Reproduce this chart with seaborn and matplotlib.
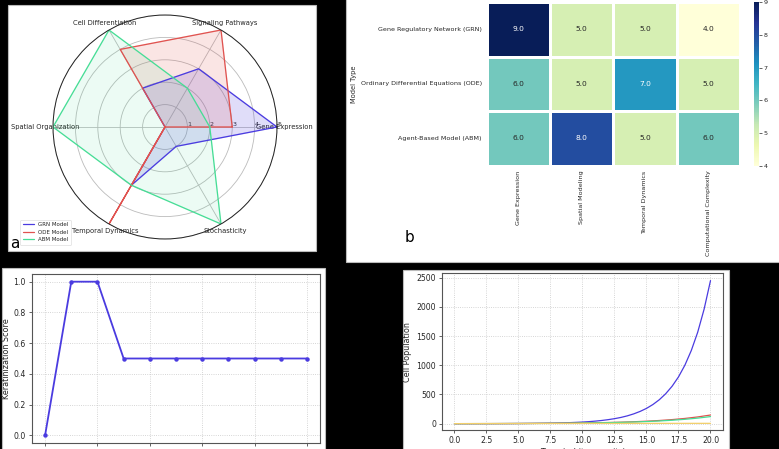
import numpy as np
import pandas as pd
import matplotlib
matplotlib.use("Agg")
import matplotlib.pyplot as plt
import seaborn as sns
from matplotlib.patches import Rectangle

# ---------------- data ----------------
radar_axes = ["Gene Expression", "Signaling Pathways", "Cell Differentiation",
              "Spatial Organization", "Temporal Dynamics", "Stochasticity"]
grn_scores = [5, 3, 2, 0, 3, 1]
ode_scores = [3, 5, 4, 0, 5, 0]
abm_scores = [2, 2, 5, 5, 3, 5]
radar_models = ["GRN Model", "ODE Model", "ABM Model"]
radar_ticks = [1, 2, 3, 4, 5]

heat_rows = ["Gene Regulatory Network (GRN)",
             "Ordinary Differential Equations (ODE)",
             "Agent-Based Model (ABM)"]
heat_cols = ["Gene Expression", "Spatial Modeling", "Temporal Dynamics",
             "Computational Complexity"]
heat_grn = [9, 5, 5, 4]
heat_ode = [6, 5, 7, 5]
heat_abm = [6, 8, 5, 6]

kera_steps = [0, 1, 2, 3, 4, 5, 6, 7, 8, 9, 10]
kera_scores = [0.0, 1.0, 1.0, 0.5, 0.5, 0.5, 0.5, 0.5, 0.5, 0.5, 0.5]

time_fine = [0.0, 0.5, 1.0, 1.5, 2.0, 2.5, 3.0, 3.5, 4.0, 4.5, 5.0, 5.5, 6.0, 6.5,
             7.0, 7.5, 8.0, 8.5, 9.0, 9.5, 10.0, 10.5, 11.0, 11.5, 12.0, 12.5,
             13.0, 13.5, 14.0, 14.5, 15.0, 15.5, 16.0, 16.5, 17.0, 17.5, 18.0,
             18.5, 19.0, 19.5, 20.0]
pop_grn = [0.3, 0.4, 0.5, 0.6, 0.8, 1.0, 1.2, 1.5, 1.9, 2.4, 3.0, 3.8, 4.7, 5.9,
           7.4, 9.2, 11.5, 14.4, 18, 22.5, 28, 35, 44, 55, 69, 86, 107, 134, 168,
           210, 262, 328, 410, 513, 641, 801, 1002, 1253, 1566, 1960, 2450]
time_coarse = [0, 1, 2, 3, 4, 5, 6, 7, 8, 9, 10, 11, 12, 13, 14, 15, 16, 17, 18, 19, 20]
pop_ode = [1, 1.28, 1.65, 2.12, 2.72, 3.49, 4.48, 5.75, 7.39, 9.49, 12.2, 15.6,
           20.1, 25.8, 33.1, 42.5, 54.6, 70.1, 90.0, 115.6, 148.4]
pop_abm = [1, 1.27, 1.62, 2.05, 2.61, 3.32, 4.22, 5.37, 6.82, 8.67, 11.0, 14.0,
           17.8, 22.6, 28.8, 36.6, 46.5, 59.1, 75.1, 95.5, 121.5]
pop_other = [1.0, 1.3, 1.6, 2.0, 2.4, 2.8, 3.2, 3.6, 4.0, 4.3, 4.6, 4.9, 5.1,
             5.3, 5.5, 5.6, 5.7, 5.8, 5.9, 5.95, 6.0]

# ---------------- style ----------------
sns.set_style("white")
plt.rcParams["font.family"] = ["DejaVu Sans"]

C_BLUE = "#4a3be0"
C_RED = "#e0524f"
C_GREEN = "#45dd95"
C_YEL = "#f2cf6a"

W, H = 779, 449
fig = plt.figure(figsize=(W / 100, H / 100), dpi=100, facecolor="black")


def fbox(x0, y0, x1, y1):
    return [x0 / W, 1 - y1 / H, (x1 - x0) / W, (y1 - y0) / H]


def white_box(x0, y0, x1, y1):
    l, b, w, h = fbox(x0, y0, x1, y1)
    fig.patches.append(Rectangle((l, b), w, h, transform=fig.transFigure,
                                 facecolor="white", edgecolor="#bbbbbb",
                                 linewidth=0.8, zorder=-5))


white_box(8, 5, 316, 251)
white_box(346, -5, 790, 262)
white_box(2, 268, 325, 470)
white_box(403, 270, 729, 470)

# ---------------- radar (a) ----------------
axr = fig.add_axes(fbox(53, 15, 277, 239), projection="polar")
axr.set_facecolor("white")
n = len(radar_axes)
angles = [i * 2 * np.pi / n for i in range(n)]
closed = angles + angles[:1]
for vals, lab, col, al in [(grn_scores, radar_models[0], C_BLUE, 0.17),
                           (ode_scores, radar_models[1], C_RED, 0.15),
                           (abm_scores, radar_models[2], C_GREEN, 0.10)]:
    v = list(vals) + [vals[0]]
    axr.plot(closed, v, color=col, linewidth=0.9, label=lab)
    axr.fill(closed, v, color=col, alpha=al)
axr.set_ylim(0, 5)
axr.set_xticks(angles)
axr.set_xticklabels(radar_axes, fontsize=4.9)
axr.tick_params(axis="x", pad=-5)
axr.set_yticks(radar_ticks)
axr.set_yticklabels([str(t) for t in radar_ticks], fontsize=4.6)
axr.set_rlabel_position(0)
axr.grid(True, color="#bbbbbb", linewidth=0.6)
axr.spines["polar"].set_color("#222222")
axr.spines["polar"].set_linewidth(0.7)
leg = axr.legend(loc="lower left", bbox_to_anchor=(17 / W, 1 - 248 / H),
                 bbox_transform=fig.transFigure, fontsize=4.0, frameon=True,
                 handlelength=2.0, borderpad=0.5, labelspacing=0.45)
leg.get_frame().set_linewidth(0.4)
fig.text(10 / W, 1 - 243 / H, "a", fontsize=11, color="black", va="center", ha="left")

# ---------------- heatmap (b) ----------------
heat_df = pd.DataFrame([heat_grn, heat_ode, heat_abm], index=heat_rows, columns=heat_cols)
axh = fig.add_axes(fbox(486.7, 2, 740, 165.7))
cax = fig.add_axes(fbox(754.3, 2, 758.5, 166))
sns.heatmap(heat_df, annot=True, fmt=".1f", cmap="YlGnBu", vmin=4, vmax=9,
            linewidths=0.8, linecolor="white", ax=axh, cbar_ax=cax,
            annot_kws={"fontsize": 5.4})
axh.tick_params(axis="both", labelsize=4.6, length=2, width=0.5, pad=1.5)
axh.set_xticklabels(heat_cols, rotation=90)
axh.set_yticklabels(heat_rows, rotation=0)
axh.set_ylabel("Model Type", fontsize=4.8, labelpad=3)
axh.set_xlabel("")
cax.tick_params(labelsize=4.6, length=2, width=0.5, pad=1.5)
cax.set_yticks([4, 5, 6, 7, 8, 9])
for s in cax.spines.values():
    s.set_visible(False)
fig.text(405 / W, 1 - 238 / H, "b", fontsize=11, color="black", va="center", ha="left")

# ---------------- keratinization (bottom-left) ----------------
axk = fig.add_axes(fbox(32, 274, 320, 443))
sns.lineplot(x=kera_steps, y=kera_scores, marker="o", markersize=3.2,
             markeredgewidth=0, color=C_BLUE, linewidth=1.3, ax=axk)
axk.set_xlim(-0.5, 10.5)
axk.set_ylim(-0.05, 1.05)
axk.set_xticks([0, 2, 4, 6, 8, 10])
axk.set_yticks([0.0, 0.2, 0.4, 0.6, 0.8, 1.0])
axk.set_ylabel("Keratinization Score", fontsize=5.8, labelpad=1.5)
axk.tick_params(labelsize=5.6, length=2.5, width=0.5, pad=2, left=True, bottom=True)
axk.grid(True, linestyle=":", color="#c8c8c8", linewidth=0.6)
for s in axk.spines.values():
    s.set_color("#555555")
    s.set_linewidth(0.8)

# ---------------- cell population (bottom-right) ----------------
axp = fig.add_axes(fbox(442.3, 273.3, 723.3, 430))
pop_df = pd.concat([
    pd.DataFrame({"t": time_fine, "pop": pop_grn, "model": "GRN"}),
    pd.DataFrame({"t": time_coarse, "pop": pop_ode, "model": "ODE"}),
    pd.DataFrame({"t": time_coarse, "pop": pop_abm, "model": "ABM"}),
    pd.DataFrame({"t": time_coarse, "pop": pop_other, "model": "Other"}),
])
sns.lineplot(data=pop_df, x="t", y="pop", hue="model",
             palette={"GRN": C_BLUE, "ODE": C_RED, "ABM": C_GREEN, "Other": C_YEL},
             linewidth=0.9, legend=False, ax=axp)
axp.set_xlim(-0.95, 21.0)
axp.set_ylim(-108, 2575)
axp.set_xticks([0, 2.5, 5, 7.5, 10, 12.5, 15, 17.5, 20])
axp.set_xticklabels(["0.0", "2.5", "5.0", "7.5", "10.0", "12.5", "15.0", "17.5", "20.0"])
axp.set_yticks([0, 500, 1000, 1500, 2000, 2500])
axp.set_xlabel("Time (arbitrary units)", fontsize=5.8, labelpad=2)
axp.set_ylabel("Cell Population", fontsize=5.8, labelpad=3)
axp.tick_params(labelsize=5.6, length=2.5, width=0.5, pad=2, left=True, bottom=True)
axp.grid(True, linestyle=":", color="#c8c8c8", linewidth=0.6)
for s in axp.spines.values():
    s.set_color("#555555")
    s.set_linewidth(0.8)

fig.savefig("out.png", dpi=100, facecolor="black")
